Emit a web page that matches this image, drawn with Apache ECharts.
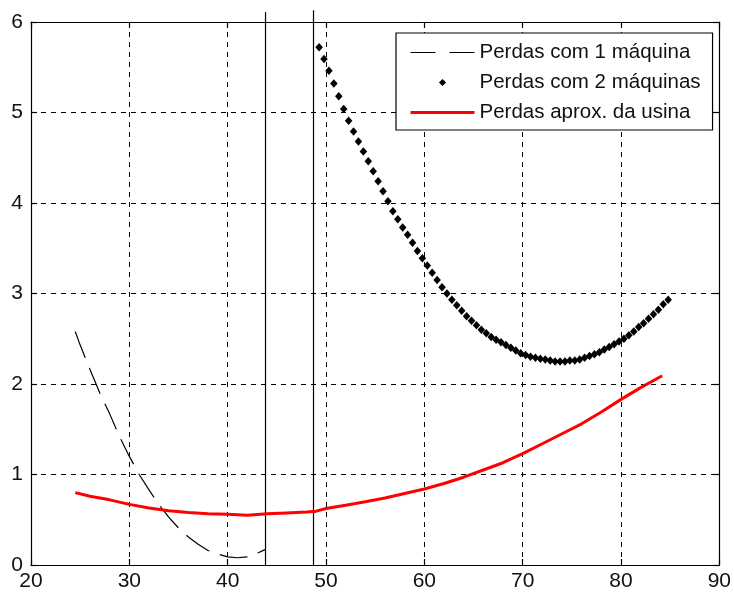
<!DOCTYPE html>
<html>
<head>
<meta charset="utf-8">
<script src="https://cdn.jsdelivr.net/npm/echarts@6/dist/echarts.min.js"></script>
<style>
html,body{margin:0;padding:0;background:#fff;}
#chart{width:734px;height:592px;}
</style>
</head>
<body>
<div id="chart"></div>
<script>
// ---- data ----
var seriesNames = ['Perdas com 1 máquina', 'Perdas com 2 máquinas', 'Perdas aprox. da usina'];
var xTicks = [20, 30, 40, 50, 60, 70, 80, 90];
var yTicks = [0, 1, 2, 3, 4, 5, 6];

var x1 = [24.5, 25, 26, 27, 28, 29, 30, 31, 32, 33, 34, 35, 36, 37, 38, 39, 40, 41, 42, 43, 43.8];
var y1 = [2.58, 2.43, 2.16, 1.90, 1.67, 1.42, 1.20, 1.00, 0.83, 0.67, 0.53, 0.41, 0.31, 0.23, 0.16, 0.12, 0.09, 0.08, 0.09, 0.13, 0.17];

var x2 = [49.3, 49.8, 50.3, 50.8, 51.3, 51.8, 52.3, 52.8, 53.3, 53.8, 54.3, 54.8, 55.3, 55.8, 56.3, 56.8, 57.3, 57.8, 58.3, 58.8,
          59.3, 59.8, 60.3, 60.8, 61.3, 61.8, 62.3, 62.8, 63.3, 63.8, 64.3, 64.8, 65.3, 65.8, 66.3, 66.8, 67.3, 67.8, 68.3, 68.8,
          69.3, 69.8, 70.3, 70.8, 71.3, 71.8, 72.3, 72.8, 73.3, 73.8, 74.3, 74.8, 75.3, 75.8, 76.3, 76.8, 77.3, 77.8, 78.3, 78.8,
          79.3, 79.8, 80.3, 80.8, 81.3, 81.8, 82.3, 82.8, 83.3, 83.8, 84.3, 84.8];
var y2 = [5.72, 5.59, 5.46, 5.32, 5.18, 5.04, 4.91, 4.79, 4.68, 4.57, 4.46, 4.35, 4.24, 4.13, 4.02, 3.91, 3.82, 3.73, 3.65, 3.56,
          3.47, 3.39, 3.31, 3.23, 3.15, 3.07, 3.00, 2.93, 2.87, 2.81, 2.75, 2.70, 2.65, 2.60, 2.56, 2.52, 2.49, 2.46, 2.43, 2.40,
          2.37, 2.34, 2.32, 2.30, 2.29, 2.28, 2.27, 2.26, 2.25, 2.25, 2.25, 2.26, 2.26, 2.27, 2.29, 2.31, 2.33, 2.35, 2.38, 2.41,
          2.44, 2.47, 2.50, 2.54, 2.58, 2.63, 2.67, 2.72, 2.77, 2.82, 2.88, 2.93];

var x3 = [24.5, 26, 28, 30, 32, 34, 36, 38, 40, 42, 44, 46, 48, 49, 50, 52, 54, 56, 58, 60, 62, 64, 66, 68, 70, 72, 74, 76, 78, 80, 82, 84, 84.2];
var y3 = [0.80, 0.76, 0.72, 0.67, 0.63, 0.60, 0.58, 0.565, 0.56, 0.55, 0.565, 0.575, 0.585, 0.595, 0.625, 0.66, 0.70, 0.74, 0.79, 0.84, 0.90, 0.97, 1.05, 1.13, 1.23, 1.34, 1.45, 1.56, 1.69, 1.83, 1.96, 2.08, 2.09];

var vLineX = [43.85, 48.73];
var vLineTop = [6.11, 6.13];

function pairs(xs, ys) { return xs.map(function (x, i) { return [x, ys[i]]; }); }

var FONT = 'Liberation Sans, Arial, sans-serif';
var TXT = '#101018';

var chart = echarts.init(document.getElementById('chart'), null, { renderer: 'canvas' });

var gridDash = { show: true, lineStyle: { color: '#000', width: 1, type: [5, 5] } };

var vLines = vLineX.map(function (x, i) {
  return {
    type: 'line', name: 'v' + i, data: [[x, 0], [x, vLineTop[i]]],
    symbol: 'none', clip: false, silent: true, z: 5,
    lineStyle: { color: '#000', width: 1.2 }
  };
});

chart.setOption({
  animation: false,
  backgroundColor: '#fff',
  grid: { left: 31, right: 13, top: 22, bottom: 26, containLabel: false },
  xAxis: [{
    type: 'value', min: xTicks[0], max: xTicks[xTicks.length - 1], interval: 10, position: 'bottom',
    axisLine: { show: true, lineStyle: { color: '#000', width: 1.2 } },
    axisTick: { show: true, inside: true, length: 6, lineStyle: { color: '#000', width: 1.2 } },
    axisLabel: { show: true, margin: 6, color: TXT, fontSize: 21, fontFamily: FONT },
    splitLine: gridDash
  }, {
    type: 'value', min: xTicks[0], max: xTicks[xTicks.length - 1], interval: 10, position: 'top',
    axisLine: { show: true, onZero: false, lineStyle: { color: '#000', width: 1.2 } },
    axisTick: { show: true, inside: true, length: 6, lineStyle: { color: '#000', width: 1.2 } },
    axisLabel: { show: false }, splitLine: { show: false }
  }],
  yAxis: [{
    type: 'value', min: yTicks[0], max: yTicks[yTicks.length - 1], interval: 1, position: 'left',
    axisLine: { show: true, onZero: false, lineStyle: { color: '#000', width: 1.2 } },
    axisTick: { show: true, inside: true, length: 6, lineStyle: { color: '#000', width: 1.2 } },
    axisLabel: { show: true, margin: 8, color: TXT, fontSize: 21, fontFamily: FONT },
    splitLine: gridDash
  }, {
    type: 'value', min: yTicks[0], max: yTicks[yTicks.length - 1], interval: 1, position: 'right',
    axisLine: { show: true, onZero: false, lineStyle: { color: '#000', width: 1.2 } },
    axisTick: { show: true, inside: true, length: 6, lineStyle: { color: '#000', width: 1.2 } },
    axisLabel: { show: false }, splitLine: { show: false }
  }],
  legend: {
    orient: 'vertical', left: 396, top: 33,
    padding: [9, 12, 7, 13],
    backgroundColor: '#fff', borderColor: '#000', borderWidth: 1.2,
    itemWidth: 64, itemHeight: 9, itemGap: 9,
    selectedMode: false,
    textStyle: { color: TXT, fontSize: 20.5, fontFamily: FONT },
    data: [
      { name: seriesNames[0], itemStyle: { color: 'rgba(0,0,0,0)', opacity: 0 }, lineStyle: { color: '#000', width: 1.2, type: [25, 14] } },
      { name: seriesNames[1] },
      { name: seriesNames[2], itemStyle: { color: 'rgba(0,0,0,0)', opacity: 0 }, lineStyle: { color: '#ff0000', width: 3 } }
    ]
  },
  series: [
    {
      type: 'line', name: seriesNames[0], data: pairs(x1, y1), symbol: 'none', silent: true, z: 3,
      lineStyle: { color: '#000', width: 1.2, type: [28, 11] }, itemStyle: { color: '#000' }
    },
    {
      type: 'line', name: seriesNames[1], data: pairs(x2, y2), symbol: 'diamond', symbolSize: [7.5, 8.5],
      showSymbol: true, showAllSymbol: true, silent: true, z: 4,
      lineStyle: { width: 0, opacity: 0 }, itemStyle: { color: '#000' }
    },
    {
      type: 'line', name: seriesNames[2], data: pairs(x3, y3), symbol: 'none', silent: true, z: 6,
      lineStyle: { color: '#ff0000', width: 3 }, itemStyle: { color: '#ff0000' }
    }
  ].concat(vLines)
});
</script>
</body>
</html>
